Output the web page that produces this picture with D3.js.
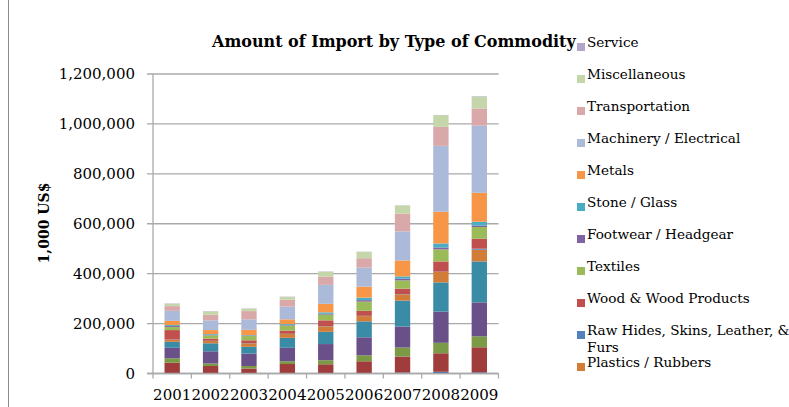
<!DOCTYPE html>
<html>
<head>
<meta charset="utf-8">
<script src="https://cdn.jsdelivr.net/npm/d3@7/dist/d3.min.js"></script>
<style>
  html, body { margin: 0; padding: 0; background: #fff; }
  svg { display: block; }
</style>
</head>
<body>
<svg id="chart" width="789" height="407"></svg>
<script>
// Import value by commodity group, in 1,000 US$ (stack order bottom -> top)
const years = ["2001", "2002", "2003", "2004", "2005", "2006", "2007", "2008", "2009"];

const commodities = [
  "Animal & Animal Products",
  "Vegetable Products",
  "Foodstuffs",
  "Mineral Products",
  "Chemicals & Allied Industries",
  "Plastics / Rubbers",
  "Raw Hides, Skins, Leather, & Furs",
  "Wood & Wood Products",
  "Textiles",
  "Footwear / Headgear",
  "Stone / Glass",
  "Metals",
  "Machinery / Electrical",
  "Transportation",
  "Miscellaneous",
  "Service"
];

const animalProducts    = [1000, 1000, 1000, 1000, 1000, 2000, 4000, 7000, 5000];
const vegetableProducts = [42000, 29000, 19000, 37000, 36000, 47000, 64000, 74000, 100000];
const foodstuffs        = [18000, 10000, 10000, 11000, 16000, 24000, 36000, 42000, 44000];
const mineralProducts   = [42000, 49000, 50000, 54000, 65000, 72000, 84000, 125000, 136000];
const chemicals         = [24000, 32000, 27000, 40000, 49000, 64000, 104000, 117000, 164000];
const plastics          = [8000, 9000, 14000, 15000, 22000, 21000, 24000, 42000, 47000];
const rawHides          = [1000, 1000, 1000, 1000, 1000, 1000, 1000, 1000, 4000];
const wood              = [38000, 9000, 11000, 13000, 23000, 20000, 23000, 41000, 40000];
const textiles          = [12000, 13000, 17000, 20000, 23000, 37000, 33000, 48000, 47000];
const footwear          = [4000, 2000, 2000, 2000, 3000, 6000, 7000, 8000, 6000];
const stoneGlass        = [4000, 3000, 2000, 4000, 6000, 10000, 9000, 16000, 15000];
const metals            = [17000, 16000, 21000, 19000, 34000, 44000, 64000, 127000, 116000];
const machinery         = [40000, 39000, 42000, 51000, 76000, 76000, 116000, 264000, 269000];
const transportation    = [19000, 22000, 33000, 28000, 33000, 38000, 72000, 76000, 69000];
const miscellaneous     = [10000, 14000, 10000, 11000, 20000, 25000, 32000, 47000, 47000];
const service           = [1000, 1000, 1000, 1000, 1000, 1000, 1000, 1000, 2000];

const seriesValues = [
  animalProducts, vegetableProducts, foodstuffs, mineralProducts, chemicals,
  plastics, rawHides, wood, textiles, footwear, stoneGlass, metals,
  machinery, transportation, miscellaneous, service
];

const colors = [
  "#3d6baa", "#a03d3c", "#7b9a45", "#6a5088", "#3a8ca6", "#d17c37",
  "#4f81bd", "#c0504d", "#9bbb59", "#8064a2", "#4bacc6", "#f79646",
  "#aabad8", "#d9a9a9", "#c5d7aa", "#b3a6cb"
];

const yTicks = [0, 200000, 400000, 600000, 800000, 1000000, 1200000];

// Build table rows for d3.stack
const table = years.map((yr, i) => {
  const row = { year: yr };
  commodities.forEach((c, k) => { row[c] = seriesValues[k][i]; });
  return row;
});

const svg = d3.select("#chart");
const serif = "'DejaVu Serif', 'Liberation Serif', serif";

// Outer frame edge on the left
svg.append("line")
  .attr("x1", 8.5).attr("x2", 8.5).attr("y1", 0).attr("y2", 407)
  .attr("stroke", "#8c8c8c").attr("stroke-width", 1);

const plot = { left: 153, right: 498.5, top: 74, bottom: 373.5 };

const x = d3.scaleBand()
  .domain(years)
  .range([plot.left, plot.right])
  .paddingInner(0.6)
  .paddingOuter(0.3);

const y = d3.scaleLinear()
  .domain([0, 1200000])
  .range([plot.bottom, plot.top]);

// Gridlines
svg.append("g")
  .selectAll("line")
  .data(yTicks)
  .join("line")
  .attr("x1", plot.left - 6)
  .attr("x2", plot.right)
  .attr("y1", d => y(d))
  .attr("y2", d => y(d))
  .attr("stroke", "#a9a9a9")
  .attr("stroke-width", 1.3);

// Y axis line
svg.append("line")
  .attr("x1", plot.left).attr("x2", plot.left)
  .attr("y1", plot.top).attr("y2", plot.bottom)
  .attr("stroke", "#a9a9a9").attr("stroke-width", 1.3);

// Y tick labels
const fmt = d3.format(",");
svg.append("g")
  .selectAll("text")
  .data(yTicks)
  .join("text")
  .attr("x", 135)
  .attr("y", d => y(d))
  .attr("dy", "0.36em")
  .attr("text-anchor", "end")
  .attr("font-family", serif)
  .attr("font-size", 15)
  .attr("fill", "#000")
  .text(d => fmt(d));

// Category boundary ticks under the x axis
const step = x.step();
const bounds = d3.range(years.length + 1).map(i => plot.left + i * step);
svg.append("g")
  .selectAll("line")
  .data(bounds)
  .join("line")
  .attr("x1", d => d).attr("x2", d => d)
  .attr("y1", plot.bottom).attr("y2", plot.bottom + 5)
  .attr("stroke", "#a9a9a9").attr("stroke-width", 1.3);

// Stacked bars
const stack = d3.stack().keys(commodities);
const layers = stack(table);

svg.append("g")
  .selectAll("g")
  .data(layers)
  .join("g")
  .attr("fill", (d, i) => colors[i])
  .selectAll("rect")
  .data(d => d)
  .join("rect")
  .attr("x", d => x(d.data.year))
  .attr("width", x.bandwidth())
  .attr("y", d => y(d[1]))
  .attr("height", d => Math.max(0, y(d[0]) - y(d[1])));

// X axis line over the bars' base
svg.append("line")
  .attr("x1", plot.left - 6).attr("x2", plot.right)
  .attr("y1", plot.bottom).attr("y2", plot.bottom)
  .attr("stroke", "#a9a9a9").attr("stroke-width", 1.3);

// Year labels
svg.append("g")
  .selectAll("text")
  .data(years)
  .join("text")
  .attr("x", d => x(d) + x.bandwidth() / 2)
  .attr("y", 400)
  .attr("text-anchor", "middle")
  .attr("font-family", serif)
  .attr("font-size", 15)
  .attr("fill", "#000")
  .text(d => d);

// Y axis title
svg.append("text")
  .attr("transform", "translate(49,223) rotate(-90)")
  .attr("text-anchor", "middle")
  .attr("font-family", serif)
  .attr("font-weight", "bold")
  .attr("font-size", 14)
  .attr("fill", "#000")
  .text("1,000 US$");

// Chart title, sized so it ends just before the legend column
const titleStart = 212, titleWidth = 364;
const title = svg.append("text")
  .attr("x", titleStart)
  .attr("y", 47)
  .attr("font-family", serif)
  .attr("font-weight", "bold")
  .attr("font-size", 17)
  .attr("fill", "#000")
  .text("Amount of Import by Type of Commodity");
const natural = title.node().getComputedTextLength();
title.attr("font-size", 17 * titleWidth / natural);

// Legend (top of stack first); entries that do not fit are left out
const legend = svg.append("g");
const legendX = 577, legendTop = 47, legendStep = 32, legendBottom = 380;
const wrapWidth = 212;
let ly = legendTop;
const order = d3.range(commodities.length).reverse();
for (const k of order) {
  if (ly > legendBottom) break;
  const g = legend.append("g");
  g.append("rect")
    .attr("x", legendX).attr("y", ly - 4)
    .attr("width", 8).attr("height", 8)
    .attr("fill", colors[k]);
  const t = g.append("text")
    .attr("x", legendX + 10)
    .attr("y", ly)
    .attr("dy", "0.36em")
    .attr("font-family", serif)
    .attr("font-size", 13.6)
    .attr("fill", "#000");
  // simple word wrap
  const words = commodities[k].split(" ");
  let line = [];
  let tspan = t.append("tspan").attr("x", legendX + 10).attr("dy", 0);
  for (const w of words) {
    line.push(w);
    tspan.text(line.join(" "));
    if (tspan.node().getComputedTextLength() > wrapWidth && line.length > 1) {
      line.pop();
      tspan.text(line.join(" "));
      line = [w];
      tspan = t.append("tspan").attr("x", legendX + 10).attr("dy", 17).text(w);
    }
  }
  ly += legendStep;
}
</script>
</body>
</html>
